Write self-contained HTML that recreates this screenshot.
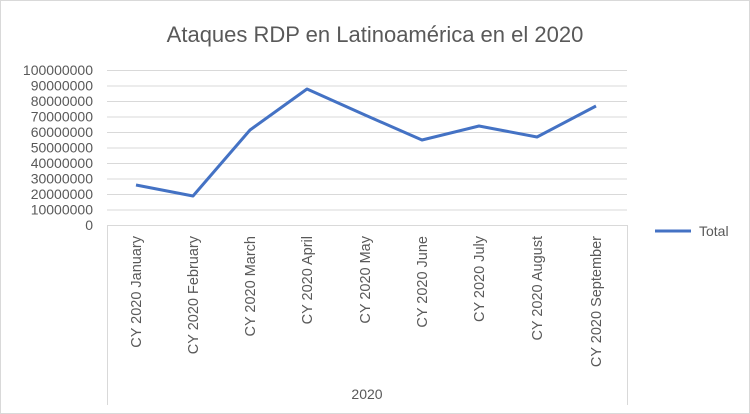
<!DOCTYPE html><html><head><style>body{margin:0;background:#fff}svg{display:block}text{font-family:"Liberation Sans",sans-serif;fill:#595959}</style></head><body>
<svg width="750" height="414" viewBox="0 0 750 414">
<rect x="0.5" y="0.5" width="749" height="413" fill="#fff" stroke="#d9d9d9"/>
<text x="375" y="42" font-size="22" text-anchor="middle">Ataques RDP en Latinoamérica en el 2020</text>
<g stroke="#d9d9d9" stroke-width="1">
<line x1="107" x2="627" y1="70.5" y2="70.5"/><line x1="107" x2="627" y1="86" y2="86"/><line x1="107" x2="627" y1="101.5" y2="101.5"/><line x1="107" x2="627" y1="117" y2="117"/><line x1="107" x2="627" y1="132.5" y2="132.5"/><line x1="107" x2="627" y1="148" y2="148"/><line x1="107" x2="627" y1="163.5" y2="163.5"/><line x1="107" x2="627" y1="179" y2="179"/><line x1="107" x2="627" y1="194.5" y2="194.5"/><line x1="107" x2="627" y1="210" y2="210"/>
<line x1="107" x2="627" y1="225.5" y2="225.5"/>
<line x1="107.5" x2="107.5" y1="225" y2="405"/><line x1="627.5" x2="627.5" y1="225" y2="405"/>
</g>
<g font-size="14" text-anchor="end">
<text x="93" y="75">100000000</text><text x="93" y="90.5">90000000</text><text x="93" y="106">80000000</text><text x="93" y="121.5">70000000</text><text x="93" y="137">60000000</text><text x="93" y="152.5">50000000</text><text x="93" y="168">40000000</text><text x="93" y="183.5">30000000</text><text x="93" y="199">20000000</text><text x="93" y="214.5">10000000</text><text x="93" y="230">0</text>
</g>
<polyline fill="none" stroke="#4472c4" stroke-width="3" stroke-linejoin="round" points="136,185 193,196 250,130 307,89 365,115 422,140 479,126 537,137 596,106"/>
<g font-size="14.5" text-anchor="end">
<text transform="translate(141,236) rotate(-90)">CY 2020 January</text>
<text transform="translate(198,236) rotate(-90)">CY 2020 February</text>
<text transform="translate(255,236) rotate(-90)">CY 2020 March</text>
<text transform="translate(312,236) rotate(-90)">CY 2020 April</text>
<text transform="translate(370,236) rotate(-90)">CY 2020 May</text>
<text transform="translate(427,236) rotate(-90)">CY 2020 June</text>
<text transform="translate(484,236) rotate(-90)">CY 2020 July</text>
<text transform="translate(542,236) rotate(-90)">CY 2020 August</text>
<text transform="translate(601,236) rotate(-90)">CY 2020 September</text>
</g>
<text x="367" y="399" font-size="14" text-anchor="middle">2020</text>
<line x1="655" x2="691" y1="231" y2="231" stroke="#4472c4" stroke-width="3"/>
<text x="699" y="236" font-size="14">Total</text>
</svg></body></html>
